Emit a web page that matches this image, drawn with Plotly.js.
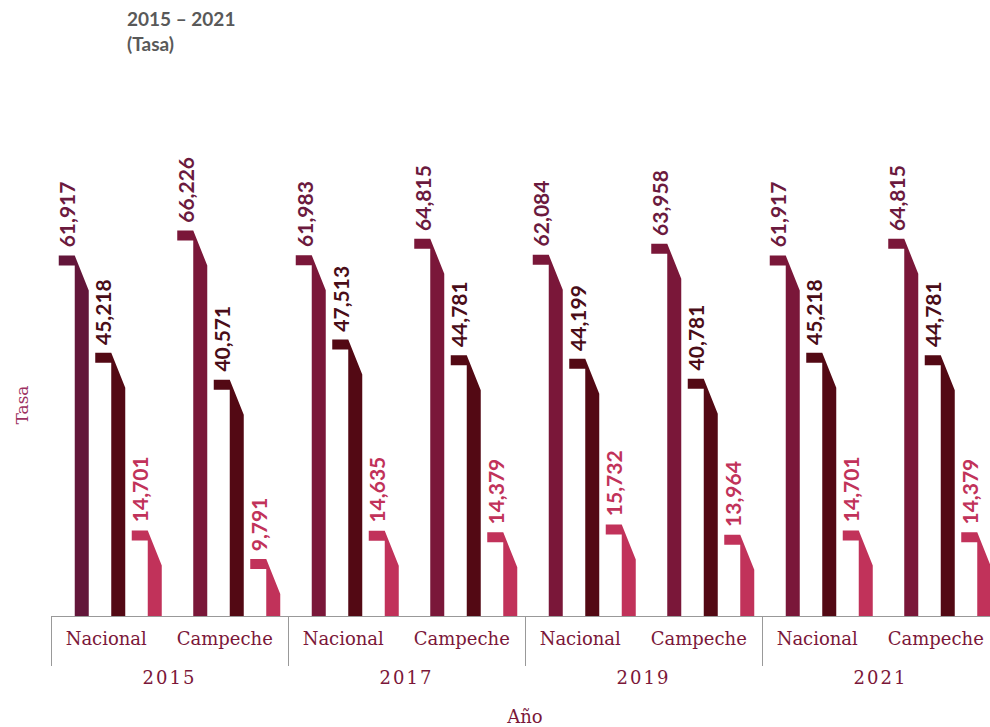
<!DOCTYPE html>
<html><head><meta charset="utf-8">
<script src="https://cdn.plot.ly/plotly-3.0.1.min.js"></script>
<style>
html,body{margin:0;padding:0;overflow:hidden;background:#fff;}
#chart{width:1000px;height:727px;}
</style></head><body><div id="chart"></div>
<script>
// ---- data ----
const years = ['2015', '2017', '2019', '2021'];
const regions = ['Nacional', 'Campeche'];
const serie1 = [61917, 66226, 61983, 64815, 62084, 63958, 61917, 64815];
const serie2 = [45218, 40571, 47513, 44781, 44199, 40781, 45218, 44781];
const serie3 = [14701, 9791, 14635, 14379, 15732, 13964, 14701, 14379];
const series = [serie1, serie2, serie3];

// ---- styles ----
const fill1 = ['#63163a', '#7a1739', '#7a1739', '#7a1739', '#7a1739', '#7a1739', '#7a1739', '#7a1739'];
const fill2 = '#530914';
const fill3 = '#c1325a';
const fills = [fill1, fill2, fill3];
const labelColors = ['#6b1a3e', '#4a0d18', '#c1325a'];

const W = 1000, H = 727, M = {l: 51, r: 1, t: 194, b: 111};
const plotW = W - M.l - M.r, plotH = H - M.t - M.b;
const xYear = [], xReg = [];
years.forEach(y => regions.forEach(r => { xYear.push(y); xReg.push(r); }));
const nCat = xYear.length;
const yMax = 72500;
const pxX = plotW / nCat;     // pixels per x unit
const pxY = plotH / yMax;     // pixels per y unit

const traces = [{
  type: 'scatter', x: [xYear, xReg], y: xYear.map(() => 0), mode: 'markers',
  marker: {opacity: 0}, hoverinfo: 'skip', showlegend: false, xaxis: 'x', yaxis: 'y'
}];
const annotations = [];
series.forEach((vals, j) => {
  vals.forEach((v, i) => {
    const c = i + (j - 1) * 36.5 / pxX;
    const tabL = c - 15 / pxX, bodyL = c + 1 / pxX, bodyR = c + 15 / pxX;
    const t = 10 / pxY, s = 35 / pxY;
    const col = Array.isArray(fills[j]) ? fills[j][i] : fills[j];
    traces.push({
      type: 'scatter', xaxis: 'x2', yaxis: 'y', mode: 'lines', fill: 'toself',
      x: [tabL, bodyL, bodyR, bodyR, bodyL, bodyL, tabL, tabL],
      y: [v, v, v - s, 0, 0, v - t, v - t, v],
      fillcolor: col, line: {width: 0, color: col}, hoverinfo: 'skip', showlegend: false
    });
    annotations.push({
      xref: 'x2', yref: 'y', x: (tabL + bodyL) / 2, y: v, yanchor: 'bottom', xanchor: 'center',
      yshift: 6, showarrow: false, textangle: -90,
      text: v.toLocaleString('en-US'),
      font: {family: 'Lato', size: 21, color: labelColors[j], weight: 'bold'}
    });
  });
});

const layout = {
  width: W, height: H, margin: M, paper_bgcolor: '#fff', plot_bgcolor: '#fff',
  showlegend: false,
  title: {
    text: '<b>2015 – 2021</b><br><b>(Tasa)</b>', xref: 'container', yref: 'container',
    x: 127 / W, xanchor: 'left', y: 1 - 26 / H, yanchor: 'top',
    font: {family: 'Lato', size: 19, color: '#595959'}
  },
  xaxis: {
    type: 'multicategory', range: [-0.5, nCat - 0.5], showline: true, linecolor: '#999', linewidth: 1,
    showdividers: true, dividercolor: '#999', dividerwidth: 1, ticks: '', showgrid: false, zeroline: false,
    tickfont: {family: 'DejaVu Serif', size: 18, color: '#7b1739'},
    title: {text: 'Año', font: {family: 'DejaVu Serif', size: 18, color: '#7b1739'}, standoff: 45}
  },
  xaxis2: {overlaying: 'x', range: [-0.5, nCat - 0.5], visible: false},
  yaxis: {
    range: [0, yMax], showticklabels: false, showgrid: false, zeroline: false, ticks: '', showline: false,
    title: {text: 'Tasa', font: {family: 'DejaVu Serif', size: 17, color: '#9c3262'}, standoff: 17}
  },
  annotations: annotations
};

Plotly.newPlot('chart', traces, layout, {staticPlot: true, displayModeBar: false}).then(gd => {
  gd.querySelectorAll('.xaxislayer-above text, .xaxislayer-above g text').forEach(el => {
    const txt = el.textContent.trim();
    const tr = el.getAttribute('transform') || '';
    if (years.includes(txt)) {
      el.style.letterSpacing = '2px';
      el.setAttribute('transform', tr + ' translate(0,22)');
    } else if (regions.includes(txt)) {
      el.setAttribute('transform', tr + ' translate(-4,6)');
    }
  });
});
</script></body></html>
